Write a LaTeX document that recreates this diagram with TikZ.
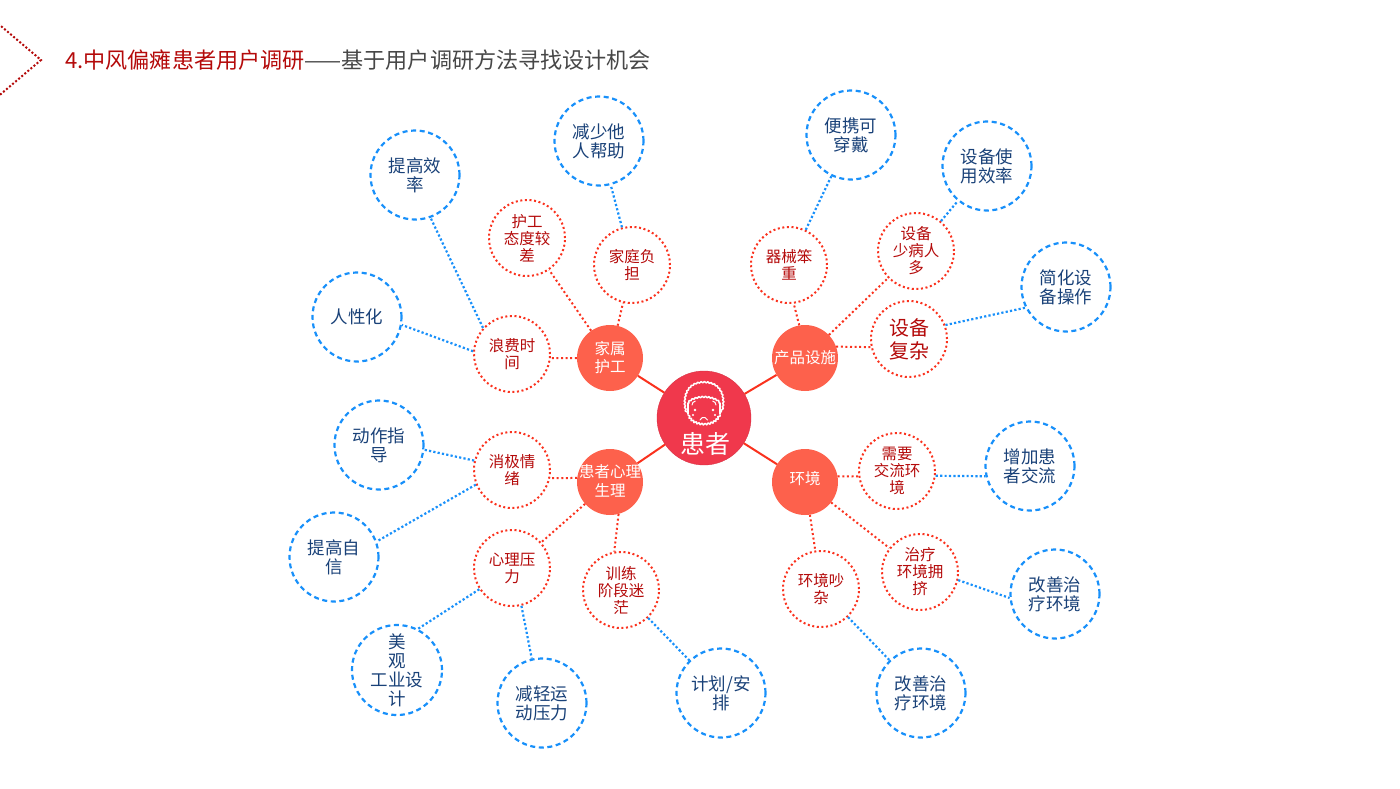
\documentclass[tikz,border=0pt]{standalone}
\usetikzlibrary{decorations.pathmorphing}
\usepackage{fontspec}
\setmainfont{Noto Sans CJK SC}
\definecolor{hubred}{RGB}{253,97,76}
\definecolor{corered}{RGB}{240,56,76}
\definecolor{linered}{RGB}{250,50,30}
\definecolor{textred}{RGB}{180,10,10}
\definecolor{bluedot}{RGB}{24,144,250}
\definecolor{textblue}{RGB}{25,65,120}
\begin{document}
\begin{tikzpicture}[x=1pt,y=-1pt,
    core/.style={circle,fill=corered,draw=corered!90!black,minimum size=94pt,inner sep=0pt},
    hub/.style={circle,fill=hubred,text=white,minimum size=66pt,inner sep=0pt,align=center,font=\fontsize{15.5}{18}\selectfont},
    issue/.style={circle,draw=linered,line width=2pt,dash pattern=on 2pt off 2.6pt,text=textred,minimum size=76pt,inner sep=0pt,align=center,font=\fontsize{15.5}{17}\selectfont},
    idea/.style={circle,draw=bluedot,line width=2.2pt,dash pattern=on 5pt off 3.6pt,text=textblue,minimum size=89pt,inner sep=0pt,align=center,font=\fontsize{17.5}{19}\selectfont},
    solid link/.style={draw=linered,line width=2pt},
    red link/.style={draw=linered,line width=2pt,dash pattern=on 2pt off 2.6pt},
    blue link/.style={draw=bluedot,line width=2.2pt,dash pattern=on 2.2pt off 2.2pt},
    face/.style={draw=white,line width=1.5pt,line join=round,line cap=round},
    curl/.style={decorate,decoration={bumps,segment length=6.5pt,amplitude=1.5pt}}]
    \useasboundingbox (0,0) rectangle (1400,788);
    \draw[draw=textred,line width=2pt,dash pattern=on 2pt off 2pt] (-5,21) -- (41,60) -- (-5,99);
    \node[anchor=west,inner sep=0pt,font=\fontsize{22.1}{24}\selectfont] (title) at (65,60)
      {\textcolor{textred}{4.中风偏瘫患者用户调研}\textcolor{black!72}{——基于用户调研方法寻找设计机会}};

    \node[core] (patient) at (704,418) {};
    \node[text=white,inner sep=0pt,font=\fontsize{25}{30}\selectfont] (patientlabel) at (705,444) {患者};
    \draw[face,curl] (687,412) .. controls (683,398) and (687,383) .. (704,383)
      .. controls (721,383) and (725,398) .. (721,412);
    \draw[face,curl] (689,403) .. controls (695,396) and (713,396) .. (719,403);
    \draw[face] (688,403) -- (688,414) (720,403) -- (720,414);
    \draw[face,curl] (688,415) .. controls (692,428) and (716,428) .. (720,415);
    \draw[face,line width=1pt] (692,405) arc (180:260:4) (716,405) arc (0:-80:4)
      (700,420) arc (200:340:4);
    \fill[white] (695,410) circle (1.3) (713,410) circle (1.3) (693,415) circle (1.1) (715,415) circle (1.1);

    \node[hub] (family) at (610,358) {家属\\护工};
    \node[hub] (facility) at (805,358) {产品设施};
    \node[hub,text width=40pt] (mind) at (610,482) {\raisebox{2pt}[\height][\depth]{\makebox[40pt]{患者心理}}\\\raisebox{1pt}[\height][\depth]{生理}};
    \node[hub] (surround) at (805,482) {\raisebox{3pt}[\height][\depth]{环境}};

    \node[issue] (attitude) at (527,238) {护工\\态度较\\差};
    \node[issue] (burden) at (632,265) {家庭负\\担};
    \node[issue] (waste) at (512,354) {浪费时\\间};
    \node[issue] (bulky) at (789,265) {器械笨\\重};
    \node[issue] (crowd) at (916,251) {设备\\少病人\\多};
    \node[issue,font=\fontsize{20}{23}\selectfont] (complex) at (909,339) {设备\\复杂};
    \node[issue] (negative) at (512,470) {消极情\\绪};
    \node[issue] (pressure) at (512,568) {心理压\\力};
    \node[issue] (training) at (621,590) {训练\\阶段迷\\茫};
    \node[issue] (exchange) at (897,471) {需要\\交流环\\境};
    \node[issue] (packed) at (920,572) {治疗\\环境拥\\挤};
    \node[issue] (noise) at (821,589) {环境吵\\杂};

    \node[idea] (efficiency) at (415,175) {提高效\\率};
    \node[idea] (lesshelp) at (599,141) {减少他\\人帮助};
    \node[idea] (humane) at (357,317) {人性化};
    \node[idea] (portable) at (851,135) {便携可\\穿戴};
    \node[idea] (usage) at (987,166) {设备使\\用效率};
    \node[idea] (simple) at (1066,287) {简化设\\备操作};
    \node[idea] (guide) at (379,445) {动作指\\导};
    \node[idea] (confidence) at (334,557) {提高自\\信};
    \node[idea] (design) at (397,670) {美\\观\\工业设\\计};
    \node[idea] (motion) at (542,703) {减轻运\\动压力};
    \node[idea] (plan) at (721,693) {计划/安\\排};
    \node[idea] (quiet) at (921,693) {改善治\\疗环境};
    \node[idea] (room) at (1055,594) {改善治\\疗环境};
    \node[idea] (talk) at (1030,466) {增加患\\者交流};

    \draw[solid link] (patient) -- (family);
    \draw[solid link] (patient) -- (facility);
    \draw[solid link] (patient) -- (mind);
    \draw[solid link] (patient) -- (surround);

    \draw[red link] (family) -- (attitude);
    \draw[red link] (family) -- (burden);
    \draw[red link] (family.west) -- (waste.-6);
    \draw[red link] (facility.100) -- (bulky.-83);
    \draw[red link] (facility) -- (crowd);
    \draw[red link] (facility.20) -- (complex.192);
    \draw[red link] (mind.173) -- (negative.-12);
    \draw[red link] (mind) -- (pressure);
    \draw[red link] (mind.-75) -- (training.100);
    \draw[red link] (surround.10) -- (exchange.188);
    \draw[red link] (surround) -- (packed);
    \draw[red link] (surround) -- (noise);

    \draw[blue link] (waste.138) -- (efficiency.-70);
    \draw[blue link] (waste.176) -- (humane.-10);
    \draw[blue link] (burden) -- (lesshelp);
    \draw[blue link] (bulky) -- (portable);
    \draw[blue link] (crowd) -- (usage);
    \draw[blue link] (complex.21) -- (simple.207);
    \draw[blue link] (negative.166) -- (guide.-6);
    \draw[blue link] (negative.202) -- (confidence.20);
    \draw[blue link] (pressure.213) -- (design.63);
    \draw[blue link] (pressure.-76) -- (motion.103);
    \draw[blue link] (training) -- (plan);
    \draw[blue link] (noise) -- (quiet);
    \draw[blue link] (packed.-12) -- (room.185);
    \draw[blue link] (exchange.-7) -- (talk.193);
\end{tikzpicture}
\end{document}
